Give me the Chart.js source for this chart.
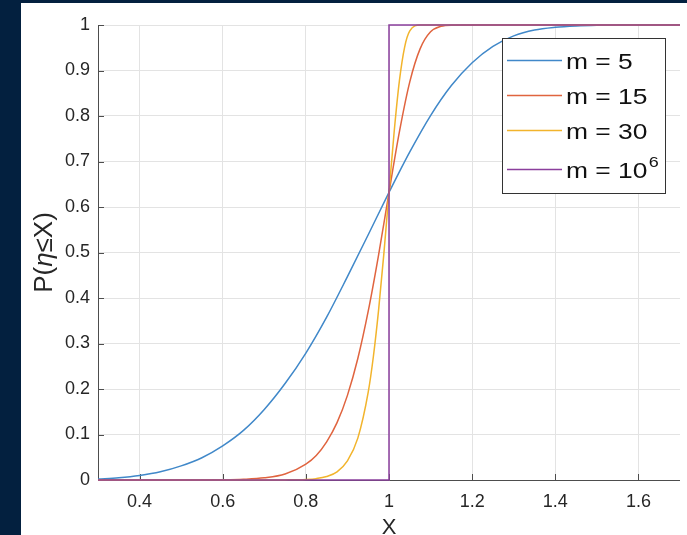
<!DOCTYPE html>
<html>
<head>
<meta charset="utf-8">
<script src="https://cdn.jsdelivr.net/npm/chart.js@4"></script>
<style>
body { margin: 0; background: #03203f; width: 687px; height: 535px; overflow: hidden; }
.panel { position: absolute; left: 21px; top: 3px; width: 666px; height: 532px; background: #fff; }
</style>
</head>
<body>
<div class="panel"><canvas id="chart" width="666" height="532"></canvas></div>
<script>
// values
var blueX = [0.30, 0.35, 0.40, 0.45, 0.50, 0.55, 0.60, 0.65, 0.70, 0.75, 0.80, 0.85, 0.90, 0.95, 1.00,
             1.05, 1.10, 1.15, 1.20, 1.25, 1.30, 1.35, 1.40, 1.45, 1.50, 1.55, 1.60, 1.70];
var blueY = [0.002, 0.005, 0.010, 0.018, 0.031, 0.049, 0.075, 0.109, 0.155, 0.212, 0.279, 0.358, 0.447, 0.539, 0.632,
             0.721, 0.801, 0.867, 0.917, 0.953, 0.976, 0.989, 0.995, 0.998, 0.9995, 1, 1, 1];

var redX = [0.30, 0.50, 0.60, 0.65, 0.70, 0.75, 0.80, 0.825, 0.85, 0.875, 0.90, 0.925, 0.95, 0.975, 1.00,
            1.025, 1.05, 1.075, 1.10, 1.125, 1.15, 1.20, 1.30, 1.70];
var redY = [0, 0, 0.0005, 0.0016, 0.0047, 0.013, 0.035, 0.054, 0.084, 0.126, 0.186, 0.267, 0.371, 0.495, 0.632,
            0.765, 0.875, 0.948, 0.985, 0.997, 0.9997, 1, 1, 1];

var yellowX = [0.30, 0.70, 0.75, 0.80, 0.825, 0.85, 0.875, 0.90, 0.925, 0.95, 0.9625, 0.975, 0.9875, 1.00,
               1.0125, 1.025, 1.0375, 1.05, 1.075, 1.10, 1.20, 1.70];
var yellowY = [0, 0, 0.0002, 0.0012, 0.003, 0.0076, 0.018, 0.042, 0.092, 0.193, 0.272, 0.374, 0.496, 0.632,
               0.766, 0.877, 0.951, 0.987, 0.9998, 1, 1, 1];

var purpleX = [0.30, 1.00, 1.00, 1.70];
var purpleY = [0, 0, 1, 1];

var seriesNames = ['m = 5', 'm = 15', 'm = 30', 'm = 10'];
var seriesSup = ['', '', '', '6'];
var seriesColors = ['#4088c9', '#e0643f', '#f2b42c', '#8b3f9d'];

var xTicks = [0.4, 0.6, 0.8, 1.0, 1.2, 1.4, 1.6];
var xTickLabels = ['0.4', '0.6', '0.8', '1', '1.2', '1.4', '1.6'];
var yTicks = [0, 0.1, 0.2, 0.3, 0.4, 0.5, 0.6, 0.7, 0.8, 0.9, 1];
var yTickLabels = ['0', '0.1', '0.2', '0.3', '0.4', '0.5', '0.6', '0.7', '0.8', '0.9', '1'];

function pts(xs, ys) {
    return xs.map(function (x, i) { return { x: x, y: ys[i] }; });
}

var FONT = "'Liberation Sans', Arial, sans-serif";
var TEXT = '#262626';

// axes with inward ticks, titles and the boxed legend
var decor = {
    id: 'decor',
    beforeDatasetsDraw: function (chart) {
        var ctx = chart.ctx, a = chart.chartArea;
        var xs = chart.scales.x, ys = chart.scales.y;
        ctx.save();
        ctx.strokeStyle = '#4d4d4d';
        ctx.lineWidth = 1;
        ctx.beginPath();
        ctx.moveTo(a.left + 0.5, a.top);
        ctx.lineTo(a.left + 0.5, a.bottom + 0.5);
        ctx.lineTo(a.right, a.bottom + 0.5);
        xTicks.forEach(function (v) {
            var px = Math.round(xs.getPixelForValue(v)) + 0.5;
            ctx.moveTo(px, a.bottom);
            ctx.lineTo(px, a.bottom - 6);
        });
        yTicks.forEach(function (v) {
            var py = Math.round(ys.getPixelForValue(v)) + 0.5;
            ctx.moveTo(a.left, py);
            ctx.lineTo(a.left + 6, py);
        });
        ctx.stroke();
        ctx.restore();
    },
    afterDraw: function (chart) {
        var ctx = chart.ctx, a = chart.chartArea;
        ctx.save();
        ctx.fillStyle = TEXT;
        // x title
        ctx.font = '22px ' + FONT;
        ctx.textAlign = 'center';
        ctx.textBaseline = 'middle';
        ctx.fillText('X', (a.left + a.right) / 2, 525);
        // y title
        ctx.translate(24, (a.top + a.bottom) / 2);
        ctx.rotate(-Math.PI / 2);
        var parts = [['P(', ''], ['\u03b7', 'italic '], ['\u2264X)', '']];
        var total = 0;
        parts.forEach(function (p) { ctx.font = p[1] + '26px ' + FONT; total += ctx.measureText(p[0]).width; });
        var cx = -total / 2;
        ctx.textAlign = 'left';
        parts.forEach(function (p) {
            ctx.font = p[1] + '26px ' + FONT;
            ctx.fillText(p[0], cx, 0);
            cx += ctx.measureText(p[0]).width;
        });
        ctx.restore();

        // legend
        var bx = 481, by = 35, bw = 163, bh = 155;
        var rows = [57, 92, 127, 166];
        ctx.save();
        ctx.fillStyle = '#fff';
        ctx.fillRect(bx, by, bw, bh);
        ctx.strokeStyle = '#333';
        ctx.lineWidth = 1;
        ctx.strokeRect(bx + 0.5, by + 0.5, bw, bh);
        ctx.restore();
        for (var i = 0; i < seriesNames.length; i++) {
            ctx.save();
            ctx.strokeStyle = seriesColors[i];
            ctx.lineWidth = 1.4;
            ctx.beginPath();
            ctx.moveTo(486, rows[i] + 0.5);
            ctx.lineTo(541, rows[i] + 0.5);
            ctx.stroke();
            ctx.translate(545, rows[i] + 9);
            ctx.scale(1.2, 1);
            ctx.fillStyle = '#111';
            ctx.font = '22px ' + FONT;
            ctx.textAlign = 'left';
            ctx.textBaseline = 'alphabetic';
            ctx.fillText(seriesNames[i], 0, 0);
            if (seriesSup[i]) {
                var w = ctx.measureText(seriesNames[i]).width;
                ctx.font = '15px ' + FONT;
                ctx.fillText(seriesSup[i], w + 1, -11);
            }
            ctx.restore();
        }
    }
};

function lineSet(label, data, color, order, mono) {
    return {
        label: label,
        data: data,
        borderColor: color,
        backgroundColor: color,
        borderWidth: 1.5,
        pointRadius: 0,
        showLine: true,
        fill: false,
        tension: mono ? 0.4 : 0,
        cubicInterpolationMode: mono ? 'monotone' : 'default',
        clip: 3,
        order: order
    };
}

var ctx = document.getElementById('chart').getContext('2d');
var chart = new Chart(ctx, {
    type: 'scatter',
    data: {
        datasets: [
            lineSet(seriesNames[0], pts(blueX, blueY), seriesColors[0], 3, true),
            lineSet(seriesNames[1], pts(redX, redY), seriesColors[1], 2, true),
            lineSet(seriesNames[2], pts(yellowX, yellowY), seriesColors[2], 1, true),
            lineSet(seriesNames[3], pts(purpleX, purpleY), seriesColors[3], 0, false)
        ]
    },
    options: {
        responsive: false,
        animation: false,
        layout: { padding: { top: 22, right: 7, left: 0, bottom: 0 } },
        plugins: {
            legend: { display: false },
            tooltip: { enabled: false }
        },
        scales: {
            x: {
                type: 'linear',
                min: 0.3,
                max: 1.7,
                afterBuildTicks: function (s) { s.ticks = xTicks.map(function (v) { return { value: v }; }); },
                afterFit: function (s) { s.height = 55; },
                ticks: {
                    padding: 11,
                    autoSkip: false,
                    maxRotation: 0,
                    color: TEXT,
                    font: { family: FONT, size: 18 },
                    callback: function (v, i) { return xTickLabels[i]; }
                },
                grid: { color: '#e3e3e3', drawTicks: false },
                border: { display: false }
            },
            y: {
                type: 'linear',
                min: 0,
                max: 1,
                afterBuildTicks: function (s) { s.ticks = yTicks.map(function (v) { return { value: v }; }); },
                afterFit: function (s) { s.width = 77; },
                ticks: {
                    padding: 8,
                    autoSkip: false,
                    color: TEXT,
                    font: { family: FONT, size: 18 },
                    callback: function (v, i) { return yTickLabels[i]; }
                },
                grid: { color: '#e3e3e3', drawTicks: false },
                border: { display: false }
            }
        }
    },
    plugins: [decor]
});
</script>
</body>
</html>
